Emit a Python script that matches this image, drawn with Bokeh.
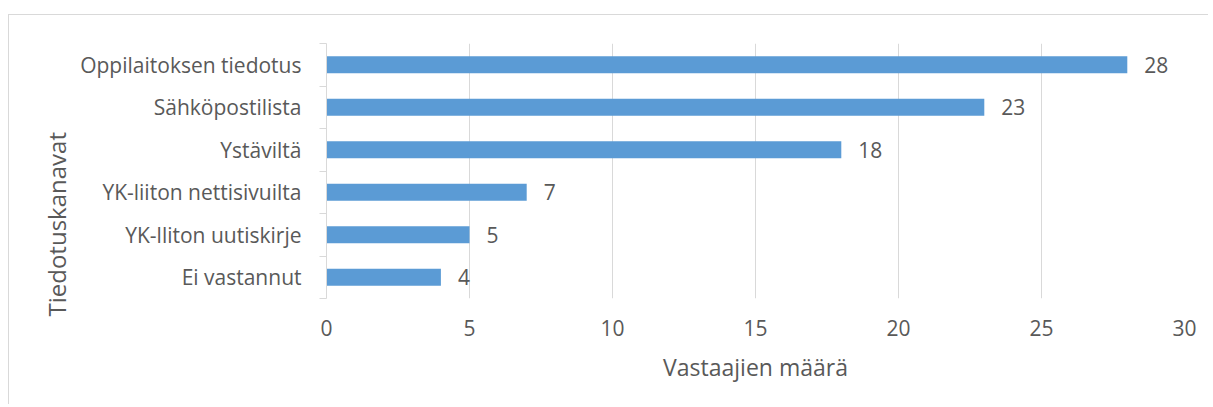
from bokeh.plotting import figure
from bokeh.models import ColumnDataSource, FixedTicker, Range1d, Title
from bokeh.core.properties import value
from bokeh.embed import file_html
from bokeh.resources import INLINE

categories = ["Oppilaitoksen tiedotus", "Sähköpostilista", "Ystäviltä",
              "YK-liiton nettisivuilta", "YK-lliton uutiskirje", "Ei vastannut"]
counts = [28, 23, 18, 7, 5, 4]
x_ticks = [0, 5, 10, 15, 20, 25, 30]
x_title = "Vastaajien määrä"
y_title = "Tiedotuskanavat"

n = len(categories)
ypos = [n - i - 0.5 for i in range(n)]

FONT = "Open Sans"
TXT = "#595959"
GRID = "#D9D9D9"

src = ColumnDataSource(dict(y=ypos, v=counts, lab=[str(c) for c in counts]))

p = figure(width=1200, height=390, output_backend="svg", toolbar_location=None,
           x_range=Range1d(0, 30), y_range=Range1d(0, n),
           min_border_left=317, min_border_right=25, min_border_top=28,
           min_border_bottom=107)
p.styles = {"border-top": "1px solid #D9D9D9", "border-left": "1px solid #D9D9D9"}
p.margin = (14, 0, 0, 8)
p.outline_line_color = None
p.background_fill_color = "white"
p.border_fill_color = "white"

p.hbar(y="y", right="v", left=0, height=0.4, source=src, color="#5B9BD5", line_color=None)
p.text(x="v", y="y", text="lab", source=src, x_offset=17, text_baseline="middle",
       text_align="left", text_font=value(FONT), text_font_size="21px", text_color=TXT)

# x axis
p.xaxis.ticker = FixedTicker(ticks=x_ticks)
p.xaxis.axis_line_color = None
p.xaxis.major_tick_line_color = None
p.xaxis.minor_tick_line_color = None
p.xaxis.major_tick_out = 0
p.xaxis.major_label_text_font = FONT
p.xaxis.major_label_text_font_size = "21px"
p.xaxis.major_label_text_color = TXT
p.xaxis.major_label_standoff = 21
p.xaxis.axis_label = x_title
p.xaxis.axis_label_text_font = FONT
p.xaxis.axis_label_text_font_size = "23px"
p.xaxis.axis_label_text_font_style = "normal"
p.xaxis.axis_label_text_color = TXT
p.xaxis.axis_label_standoff = 12

# y axis: labels at category centres, ticks at boundaries
p.yaxis.ticker = FixedTicker(ticks=ypos, minor_ticks=list(range(n + 1)))
p.yaxis.major_label_overrides = {y: c for y, c in zip(ypos, categories)}
p.yaxis.axis_line_color = GRID
p.yaxis.major_tick_line_color = None
p.yaxis.minor_tick_line_color = GRID
p.yaxis.minor_tick_out = 7
p.yaxis.minor_tick_in = 0
p.yaxis.major_label_text_font = FONT
p.yaxis.major_label_text_font_size = "21px"
p.yaxis.major_label_text_color = TXT
p.yaxis.major_label_standoff = 18

ytitle = Title(text=y_title, align="left", offset=-18, standoff=10,
               text_font=FONT, text_font_size="24px", text_font_style="normal",
               text_color=TXT)
p.add_layout(ytitle, "left")

p.xgrid.ticker = FixedTicker(ticks=x_ticks[1:])
p.xgrid.grid_line_color = GRID
p.ygrid.grid_line_color = None

open("out.html", "w").write(file_html(p, INLINE))
